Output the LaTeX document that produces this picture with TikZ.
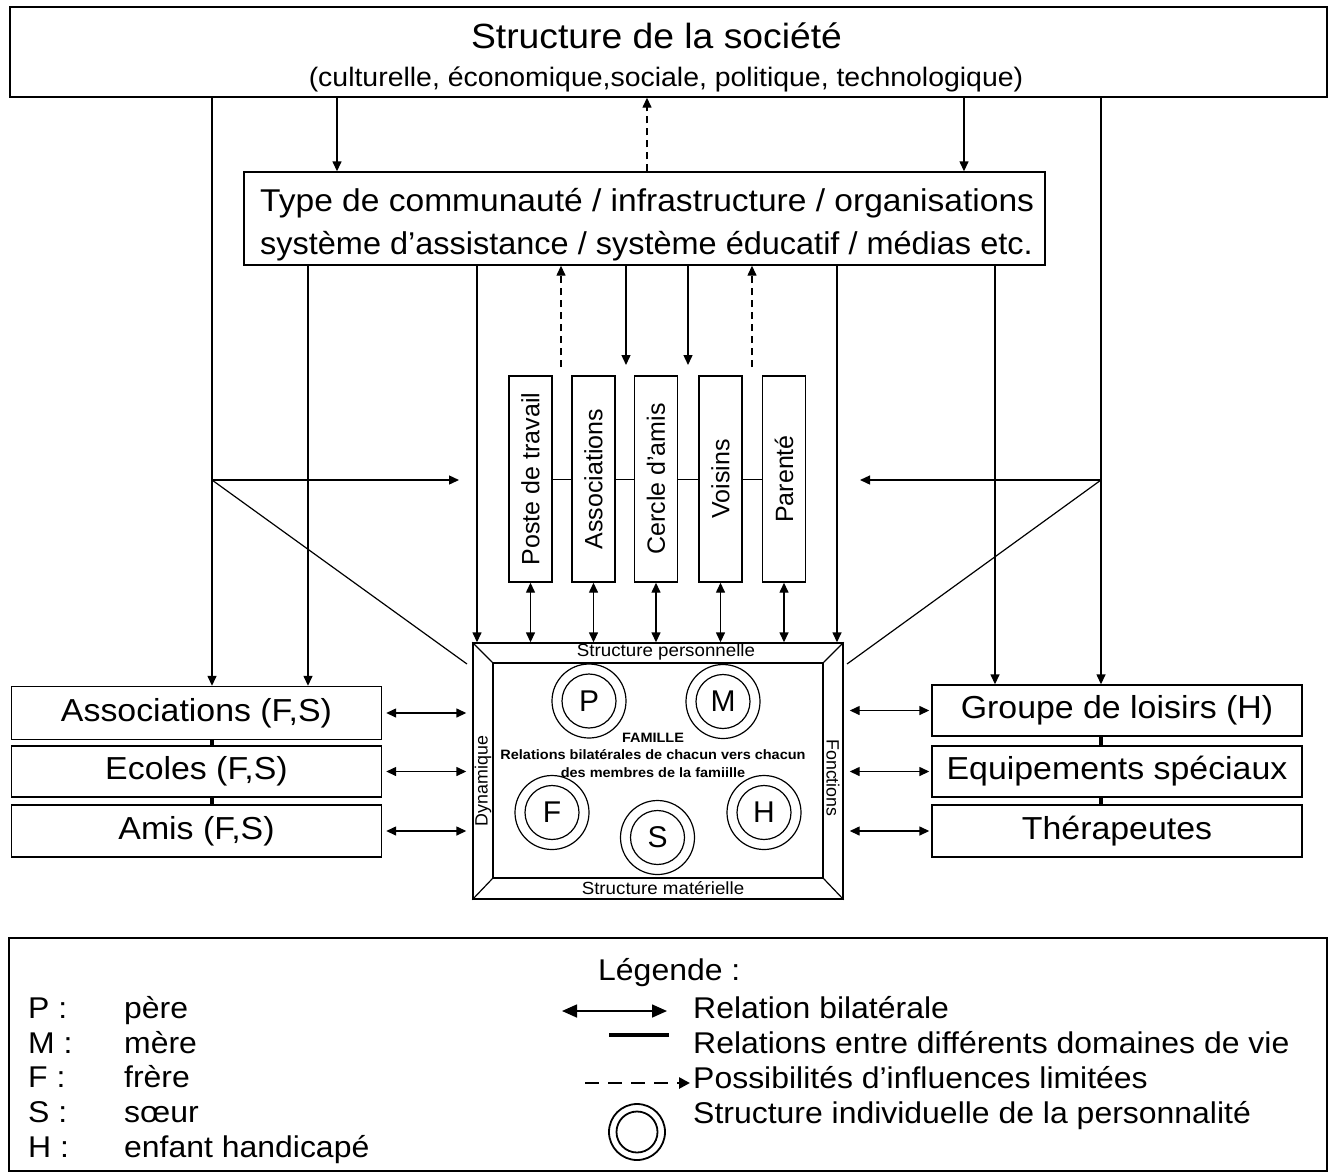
\documentclass[tikz,border=0pt]{standalone}
\usepackage{fontspec}
\usepackage{graphicx}
\setmainfont{Liberation Sans}[FakeStretch=1.065]
\newfontfamily\vfont{Liberation Sans}
\usetikzlibrary{arrows.meta,calc}
\begin{document}
\begin{tikzpicture}[x=1pt,y=-1pt,
  box/.style={draw, line width=1.4pt, inner sep=0pt},
  tip/.tip={Triangle[length=10pt,width=9pt]},
  arr/.style={line width=1.4pt, -tip},
  darr/.style={line width=1.4pt, tip-tip},
  dasharr/.style={line width=1.4pt, -tip, dash pattern=on 7pt off 5pt},
  link/.style={line width=1pt},
  thicklink/.style={line width=3.5pt},
  diag/.style={line width=1.2pt},
  ftitle/.style={font=\fontsize{35}{40}\selectfont},
  fsub/.style={font=\fontsize{26.7}{30}\selectfont},
  fbig/.style={font=\fontsize{31.5}{35}\selectfont},
  fside/.style={font=\fontsize{31.8}{35}\selectfont},
  fvert/.style={font=\vfont\fontsize{25}{28}\selectfont},
  fsmall/.style={font=\fontsize{17.6}{19}\selectfont},
  fsmallv/.style={font=\vfont\fontsize{17.8}{19}\selectfont},
  fbold/.style={font=\fontsize{13.6}{17.5}\selectfont\bfseries},
  fletter/.style={font=\vfont\fontsize{30}{30}\selectfont},
  fleg/.style={font=\fontsize{30}{34}\selectfont},
  vbox/.style={box, minimum width=43pt, minimum height=206pt},
  vtext/.style={fvert, rotate=90, inner sep=0pt},
  sidebox/.style={box, fside, minimum width=370pt},
  outerc/.style={draw, circle, line width=1.2pt, minimum size=74pt, inner sep=0pt},
  innerc/.style={draw, circle, line width=1.2pt, minimum size=54pt, inner sep=0pt, fletter},
  txt/.style={inner sep=0pt}
]
\useasboundingbox (0,0) rectangle (1335,1173);

% ---------- top box
\node[box, minimum width=1317pt, minimum height=90pt] (soc) at (668.5,52) {};
\node[ftitle, txt, anchor=base] (soct) at (656.5,48) {Structure de la société};
\node[fsub, txt, anchor=base] (socs) at (666,86) {(culturelle, économique,sociale, politique, technologique)};

% ---------- community box
\node[box, minimum width=801pt, minimum height=93pt] (comm) at (644.5,218.5) {};
\node[fbig, txt, anchor=base west] (comm1) at (260,211) {Type de communauté / infrastructure / organisations};
\node[fbig, txt, anchor=base west] (comm2) at (260,254) {\scalebox{0.968}[1]{système d’assistance / système éducatif / médias etc.}};

% ---------- life domains
\node[vbox] (poste) at (530.5,479) {};
\node[vtext] (postet) at (poste) {Poste de travail};
\node[vbox] (assoc2) at (593.5,479) {};
\node[vtext] (assoc2t) at (assoc2) {Associations};
\node[vbox] (cercle) at (656,479) {};
\node[vtext] (cerclet) at (cercle) {Cercle d’amis};
\node[vbox] (voisins) at (720.5,479) {};
\node[vtext] (voisinst) at (voisins) {Voisins};
\node[vbox] (parente) at (784,479) {};
\node[vtext] (parentet) at (parente) {Parenté};

\draw[link] (poste.east) -- (assoc2.west);
\draw[link] (assoc2.east) -- (cercle.west);
\draw[link] (cercle.east) -- (voisins.west);
\draw[link] (voisins.east) -- (parente.west);

% ---------- family box
\node[box, minimum width=370pt, minimum height=256pt] (fam) at (658,771) {};
\node[box, minimum width=330pt, minimum height=215pt] (famin) at (658,770.5) {};
\draw[line width=1.2pt] (fam.north west) -- (famin.north west);
\draw[line width=1.2pt] (fam.north east) -- (famin.north east);
\draw[line width=1.2pt] (fam.south west) -- (famin.south west);
\draw[line width=1.2pt] (fam.south east) -- (famin.south east);
\node[fsmall, txt] (sp) at (666,652) {Structure personnelle};
\node[fsmall, txt] (sm) at (663,888) {Structure matérielle};
\node[fsmallv, txt, rotate=90] (dyn) at (483,781) {Dynamique};
\node[fsmallv, txt, rotate=-90] (fon) at (833,778) {Fonctions};
\node[fbold, txt, align=center] (famt) at (653,755) {FAMILLE\\Relations bilatérales de chacun vers chacun\\des membres de la famiille};

\node[outerc] (Po) at (589,701) {};
\node[innerc] (P) at (589,701) {P};
\node[outerc] (Mo) at (723,701.5) {};
\node[innerc] (M) at (723,701.5) {M};
\node[outerc] (Fo) at (552,812.5) {};
\node[innerc] (F) at (552,812.5) {F};
\node[outerc] (So) at (657.5,837.5) {};
\node[innerc] (S) at (657.5,837.5) {S};
\node[outerc] (Ho) at (764,812.5) {};
\node[innerc] (H) at (764,812.5) {H};

% ---------- side boxes
\node[sidebox, minimum height=53pt] (assocL) at (196.5,713) {Associations (F,S)};
\node[sidebox, minimum height=51pt] (ecoles) at (196.5,771.5) {Ecoles (F,S)};
\node[sidebox, minimum height=52pt] (amis) at (196.5,831) {Amis (F,S)};
\node[sidebox, minimum height=51pt] (loisirs) at (1117,710.5) {Groupe de loisirs (H)};
\node[sidebox, minimum height=51pt] (equip) at (1117,771.5) {Equipements spéciaux};
\node[sidebox, minimum height=52pt] (thera) at (1117,831) {Thérapeutes};

% ---------- coordinates of vertical lines
\coordinate (xa) at (212,0);
\coordinate (xb) at (337,0);
\coordinate (xc) at (647,0);
\coordinate (xd) at (964,0);
\coordinate (xe) at (1101,0);
\coordinate (xf) at (308,0);
\coordinate (xg) at (477,0);
\coordinate (xl) at (837,0);
\coordinate (xm) at (995,0);
\coordinate (dh) at (561,367);
\coordinate (dk) at (752,367);
\coordinate (ei) at (626,365);
\coordinate (ej) at (688,365);
\coordinate (jl) at (212,480);
\coordinate (jle) at (459,480);
\coordinate (jld) at (467,664);
\coordinate (jr) at (1101,480);
\coordinate (jre) at (860,480);
\coordinate (jrd) at (847,664);

% ---------- connectors from society
\draw[arr] (soc.south -| xa) -- (assocL.north -| xa);
\draw[arr] (soc.south -| xb) -- (comm.north -| xb);
\draw[dasharr] (comm.north -| xc) -- (soc.south -| xc);
\draw[arr] (soc.south -| xd) -- (comm.north -| xd);
\draw[arr] (soc.south -| xe) -- (loisirs.north -| xe);
\draw[arr] (jl) -- (jle);
\draw[diag] (jl) -- (jld);
\draw[arr] (jr) -- (jre);
\draw[diag] (jr) -- (jrd);

% ---------- connectors from community
\draw[arr] (comm.south -| xf) -- (assocL.north -| xf);
\draw[arr] (comm.south -| xg) -- (fam.north -| xg);
\draw[dasharr] (dh) -- (comm.south -| dh);
\draw[arr] (comm.south -| ei) -- (ei);
\draw[arr] (comm.south -| ej) -- (ej);
\draw[dasharr] (dk) -- (comm.south -| dk);
\draw[arr] (comm.south -| xl) -- (fam.north -| xl);
\draw[arr] (comm.south -| xm) -- (loisirs.north -| xm);

% ---------- domains <-> family
\draw[darr] (poste.south) -- (fam.north -| poste.south);
\draw[darr] (assoc2.south) -- (fam.north -| assoc2.south);
\draw[darr] (cercle.south) -- (fam.north -| cercle.south);
\draw[darr] (voisins.south) -- (fam.north -| voisins.south);
\draw[darr] (parente.south) -- (fam.north -| parente.south);

% ---------- side boxes <-> family
\draw[darr, shorten <=4pt, shorten >=6pt] (assocL.east) -- (assocL.east -| fam.west);
\draw[darr, shorten <=4pt, shorten >=6pt] (ecoles.east) -- (ecoles.east -| fam.west);
\draw[darr, shorten <=4pt, shorten >=6pt] (amis.east) -- (amis.east -| fam.west);
\draw[darr, shorten <=6pt, shorten >=2pt] (loisirs.west -| fam.east) -- (loisirs.west);
\draw[darr, shorten <=6pt, shorten >=2pt] (equip.west -| fam.east) -- (equip.west);
\draw[darr, shorten <=6pt, shorten >=2pt] (thera.west -| fam.east) -- (thera.west);

\draw[thicklink] (assocL.south -| xa) -- (ecoles.north -| xa);
\draw[thicklink] (ecoles.south -| xa) -- (amis.north -| xa);
\draw[thicklink] (loisirs.south -| xe) -- (equip.north -| xe);
\draw[thicklink] (equip.south -| xe) -- (thera.north -| xe);

% ---------- legend
\node[draw, line width=1.5pt, minimum width=1318pt, minimum height=233pt, inner sep=0pt] (leg) at (668,1054.5) {};
\node[fleg, txt, anchor=base west] (legt) at (598,980) {Légende :};
\node[fleg, txt, anchor=base west] (lp1) at (28,1018) {P :};
\node[fleg, txt, anchor=base west] (lp2) at (124,1018) {père};
\node[fleg, txt, anchor=base west] (lm1) at (28,1053) {M :};
\node[fleg, txt, anchor=base west] (lm2) at (124,1053) {mère};
\node[fleg, txt, anchor=base west] (lf1) at (28,1087.5) {F :};
\node[fleg, txt, anchor=base west] (lf2) at (124,1087.5) {frère};
\node[fleg, txt, anchor=base west] (ls1) at (28,1122) {S :};
\node[fleg, txt, anchor=base west] (ls2) at (124,1122) {sœur};
\node[fleg, txt, anchor=base west] (lh1) at (28,1157) {H :};
\node[fleg, txt, anchor=base west] (lh2) at (124,1157) {enfant handicapé};

\coordinate (lda) at (562,1011);
\coordinate (ldb) at (667,1011);
\draw[line width=1.6pt, {Triangle[length=15pt,width=13pt]}-{Triangle[length=15pt,width=13pt]}] (lda) -- (ldb);
\coordinate (lla) at (609,1035);
\coordinate (llb) at (669,1035);
\draw[thicklink] (lla) -- (llb);
\coordinate (lxa) at (585,1083);
\coordinate (lxb) at (690,1083);
\draw[line width=2.6pt, dash pattern=on 14pt off 9pt, -{Triangle[length=11pt,width=11pt]}] (lxa) -- (lxb);
\node[draw, circle, line width=1.8pt, minimum size=56pt, inner sep=0pt] (lco) at (637,1132) {};
\node[draw, circle, line width=1.8pt, minimum size=41pt, inner sep=0pt] (lci) at (637,1132) {};

\node[fleg, txt, anchor=base west] (l1) at (693,1018) {Relation bilatérale};
\node[fleg, txt, anchor=base west] (l2) at (693,1053) {Relations entre différents domaines de vie};
\node[fleg, txt, anchor=base west] (l3) at (693,1088) {Possibilités d’influences limitées};
\node[fleg, txt, anchor=base west] (l4) at (693,1123) {Structure individuelle de la personnalité};
\end{tikzpicture}
\end{document}
